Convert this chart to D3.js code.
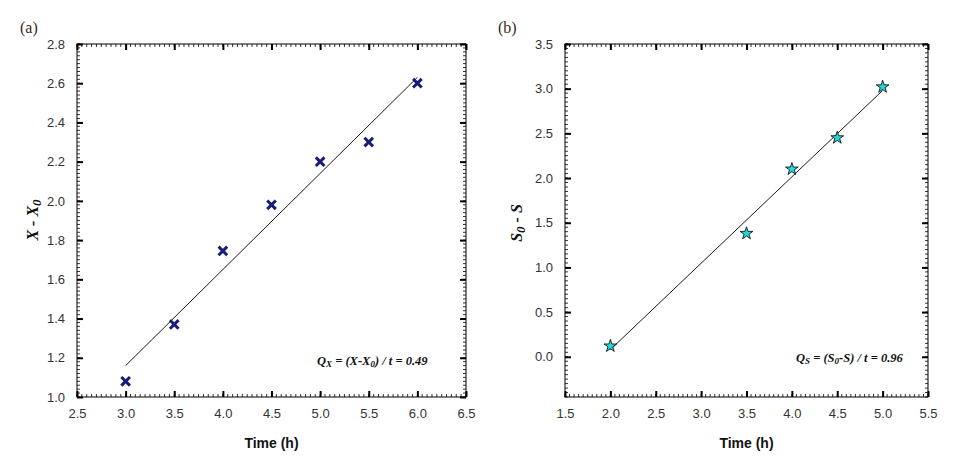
<!DOCTYPE html>
<html><head><meta charset="utf-8">
<script src="https://cdn.jsdelivr.net/npm/d3@7"></script>
<style>body{margin:0;background:#fff}svg{display:block}</style>
</head><body>
<svg id="c" width="959" height="458"></svg>
<script>
// Panel (a)
const timeA = [3.0, 3.5, 4.0, 4.5, 5.0, 5.5, 6.0];
const biomassA = [1.08, 1.37, 1.745, 1.98, 2.20, 2.30, 2.60];
const fitXA = [3.0, 6.0];
const fitYA = [1.16, 2.63];
const xTicksA = [2.5, 3.0, 3.5, 4.0, 4.5, 5.0, 5.5, 6.0, 6.5];
const yTicksA = [1.0, 1.2, 1.4, 1.6, 1.8, 2.0, 2.2, 2.4, 2.6, 2.8];
// Panel (b)
const timeB = [2.0, 3.5, 4.0, 4.5, 5.0];
const substrateB = [0.12, 1.38, 2.10, 2.45, 3.02];
const fitXB = [2.0, 5.0];
const fitYB = [0.08, 2.98];
const xTicksB = [1.5, 2.0, 2.5, 3.0, 3.5, 4.0, 4.5, 5.0, 5.5];
const yTicksB = [0.0, 0.5, 1.0, 1.5, 2.0, 2.5, 3.0, 3.5];

const svg = d3.select("#c");

function panel(o) {
  const x = d3.scaleLinear().domain(o.xDom).range([o.left, o.right]);
  const y = d3.scaleLinear().domain(o.yDom).range([o.bottom, o.top]);
  const g = svg.append("g");
  // minor ticks
  const xm = d3.range(Math.round((o.xDom[1]-o.xDom[0])/o.xMinor)+1).map(i => o.xDom[0]+i*o.xMinor);
  const ym = d3.range(Math.round((o.yDom[1]-o.yDom[0])/o.yMinor)+1).map(i => o.yDom[0]+i*o.yMinor);
  const tk = g.append("g").attr("stroke", "#000");
  xm.forEach(v => {
    tk.append("line").attr("x1", x(v)).attr("x2", x(v)).attr("y1", o.bottom).attr("y2", o.bottom-3).attr("stroke-width", 0.8);
    tk.append("line").attr("x1", x(v)).attr("x2", x(v)).attr("y1", o.top).attr("y2", o.top+3).attr("stroke-width", 0.8);
  });
  ym.forEach(v => {
    tk.append("line").attr("y1", y(v)).attr("y2", y(v)).attr("x1", o.left).attr("x2", o.left+3).attr("stroke-width", 0.8);
    tk.append("line").attr("y1", y(v)).attr("y2", y(v)).attr("x1", o.right).attr("x2", o.right-3).attr("stroke-width", 0.8);
  });
  // major ticks via axes
  const ax = (axis, tr) => {
    const a = g.append("g").attr("transform", tr).call(axis);
    a.select(".domain").remove();
    a.selectAll("line").attr("stroke", "#000").attr("stroke-width", 2);
    return a;
  };
  const fmt = d3.format(".1f");
  const bx = ax(d3.axisBottom(x).tickValues(o.xTicks).tickSizeInner(-6).tickPadding(12).tickFormat(fmt), `translate(0,${o.bottom})`);
  ax(d3.axisTop(x).tickValues(o.xTicks).tickSizeInner(-6).tickFormat(""), `translate(0,${o.top})`);
  const ly = ax(d3.axisLeft(y).tickValues(o.yTicks).tickSizeInner(-6).tickPadding(12).tickFormat(fmt), `translate(${o.left},0)`);
  ax(d3.axisRight(y).tickValues(o.yTicks).tickSizeInner(-6).tickFormat(""), `translate(${o.right},0)`);
  [bx, ly].forEach(a => a.selectAll("text").attr("font-family", "'Liberation Sans', Arial, sans-serif").attr("font-size", 13).attr("fill", "#333"));
  // frame
  g.append("rect").attr("x", o.left).attr("y", o.top).attr("width", o.right-o.left).attr("height", o.bottom-o.top)
    .attr("fill", "none").attr("stroke", "#000").attr("stroke-width", 1);
  // fit line
  g.append("path").datum(d3.zip(o.fitX, o.fitY))
    .attr("d", d3.line().x(d => x(d[0])).y(d => y(d[1])))
    .attr("stroke", "#000").attr("stroke-width", 0.9).attr("fill", "none");
  // points
  const pts = d3.zip(o.xs, o.ys);
  if (o.marker === "x") {
    g.append("g").selectAll("path").data(pts).join("path")
      .attr("d", d => { const cx = x(d[0]), cy = y(d[1]), s = 4.3; return `M${cx-s},${cy-s}L${cx+s},${cy+s}M${cx-s},${cy+s}L${cx+s},${cy-s}`; })
      .attr("stroke", "#1a1a7a").attr("stroke-width", 3).attr("fill", "none");
  } else {
    g.append("g").selectAll("path").data(pts).join("path")
      .attr("d", d3.symbol().type(d3.symbolStar).size(50))
      .attr("transform", d => `translate(${x(d[0])},${y(d[1])})`)
      .attr("fill", "#22d8d8").attr("stroke", "#000").attr("stroke-width", 0.8);
  }
  // axis title
  g.append("text").attr("x", (o.left+o.right)/2).attr("y", 448).attr("text-anchor", "middle")
    .attr("font-family", "'Liberation Sans', Arial, sans-serif").attr("font-weight", "bold").attr("font-size", 14).attr("fill", "#111")
    .text("Time (h)");
  // y title
  const yt = g.append("text").attr("transform", `translate(${o.yLabelX},${o.yLabelY}) rotate(-90)`).attr("text-anchor", "middle")
    .attr("font-family", "'Liberation Serif', 'Times New Roman', serif").attr("font-weight", "bold").attr("font-style", "italic")
    .attr("font-size", 16).attr("fill", "#111");
  o.yLabel.forEach(p => yt.append("tspan").attr("baseline-shift", p.sub ? "-25%" : null).attr("font-size", p.sub ? 13 : null).text(p.t));
  // annotation
  const an = g.append("text").attr("x", o.annX).attr("y", o.annY)
    .attr("font-family", "'Liberation Serif', 'Times New Roman', serif").attr("font-weight", "bold").attr("font-style", "italic")
    .attr("font-size", 12.5).attr("fill", "#111");
  o.ann.forEach(p => an.append("tspan").attr("baseline-shift", p.sub ? "-25%" : null).attr("font-size", p.sub ? 9 : null).text(p.t));
  // panel label
  svg.append("text").attr("x", o.tagX).attr("y", 33).attr("font-family", "'Liberation Serif', 'Times New Roman', serif")
    .attr("font-size", 16).attr("fill", "#3a2a20").text(o.tag);
}

panel({
  left: 77, right: 466, top: 44, bottom: 397,
  xDom: [2.5, 6.5], yDom: [1.0, 2.8], xMinor: 0.05, yMinor: 0.02,
  xTicks: xTicksA, yTicks: yTicksA, xs: timeA, ys: biomassA, fitX: fitXA, fitY: fitYA, marker: "x",
  yLabelX: 38, yLabelY: 220, yLabel: [{t: "X - X"}, {t: "0", sub: true}],
  annX: 317, annY: 365, ann: [{t: "Q"}, {t: "X", sub: true}, {t: " = (X-X"}, {t: "0", sub: true}, {t: ") / t = 0.49"}],
  tag: "(a)", tagX: 20
});
panel({
  left: 565, right: 928, top: 44, bottom: 397,
  xDom: [1.5, 5.5], yDom: [-0.45, 3.5], xMinor: 0.05, yMinor: 0.05,
  xTicks: xTicksB, yTicks: yTicksB, xs: timeB, ys: substrateB, fitX: fitXB, fitY: fitYB, marker: "star",
  yLabelX: 522, yLabelY: 223, yLabel: [{t: "S"}, {t: "0", sub: true}, {t: " - S"}],
  annX: 796, annY: 362, ann: [{t: "Q"}, {t: "S", sub: true}, {t: " = (S"}, {t: "0", sub: true}, {t: "-S) / t = 0.96"}],
  tag: "(b)", tagX: 498
});
</script>
</body></html>
